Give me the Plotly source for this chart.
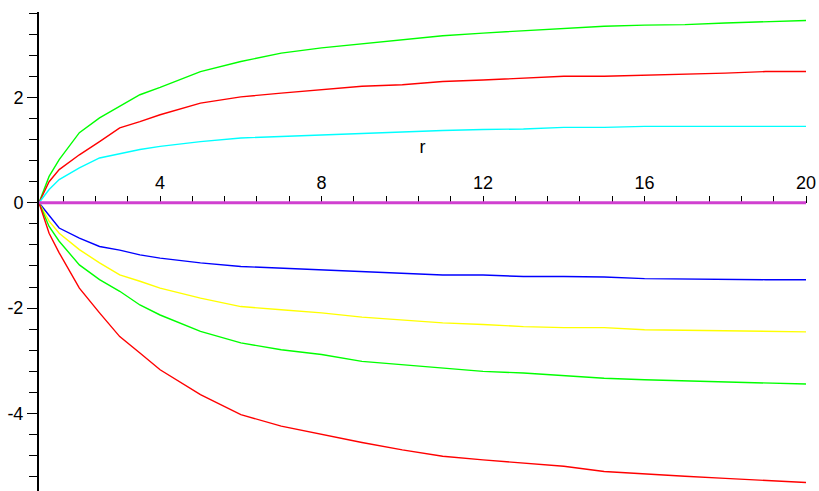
import plotly.graph_objects as go

# sample points along r
r = [1, 1.25, 1.5, 2, 2.5, 3, 3.5, 4, 5, 6, 7, 8, 9, 10, 11, 12, 13, 14, 15, 16, 17, 18, 19, 20]

green_up = [0, 0.50, 0.82, 1.33, 1.61, 1.83, 2.05, 2.19, 2.49, 2.68, 2.84, 2.94, 3.02, 3.09,
            3.17, 3.22, 3.26, 3.30, 3.35, 3.37, 3.38, 3.41, 3.43, 3.46]
red_up = [0, 0.40, 0.63, 0.91, 1.16, 1.42, 1.54, 1.67, 1.89, 2.01, 2.08, 2.14, 2.21, 2.24,
          2.30, 2.33, 2.37, 2.40, 2.40, 2.42, 2.43, 2.46, 2.49, 2.49]
cyan_up = [0, 0.25, 0.44, 0.66, 0.85, 0.93, 1.01, 1.07, 1.16, 1.23, 1.26, 1.29, 1.32, 1.35,
           1.37, 1.39, 1.40, 1.43, 1.43, 1.45, 1.45, 1.45, 1.45, 1.45]
zero_line = [0] * len(r)
blue_lo = [0, -0.23, -0.48, -0.67, -0.83, -0.90, -0.99, -1.05, -1.14, -1.21, -1.24, -1.28, -1.30,
           -1.33, -1.37, -1.37, -1.40, -1.40, -1.41, -1.44, -1.45, -1.45, -1.46, -1.46]
yellow_lo = [0, -0.35, -0.58, -0.89, -1.14, -1.37, -1.49, -1.62, -1.81, -1.97, -2.03, -2.09, -2.17,
             -2.22, -2.28, -2.31, -2.35, -2.37, -2.37, -2.41, -2.42, -2.43, -2.44, -2.45]
green_lo = [0, -0.45, -0.73, -1.18, -1.46, -1.68, -1.94, -2.13, -2.44, -2.66, -2.79, -2.88, -3.01,
            -3.07, -3.14, -3.20, -3.23, -3.28, -3.33, -3.36, -3.38, -3.40, -3.42, -3.44]
red_lo = [0, -0.58, -0.95, -1.62, -2.09, -2.54, -2.85, -3.17, -3.64, -4.02, -4.24, -4.40, -4.55,
          -4.69, -4.81, -4.88, -4.94, -5.00, -5.10, -5.15, -5.19, -5.23, -5.27, -5.31]

x_tickvals = [4, 8, 12, 16, 20]
x_ticktext = ["4", "8", "12", "16", "20"]
y_tickvals = [-4, -2, 0, 2]
y_ticktext = ["-4", "-2", "0", "2"]

series = [
    (green_up, "#00ff00"),
    (red_up, "#ff0000"),
    (cyan_up, "#00ffff"),
    (blue_lo, "#0000ff"),
    (yellow_lo, "#ffff00"),
    (green_lo, "#00ff00"),
    (red_lo, "#ff0000"),
]

fig = go.Figure()
for ys, col in series:
    fig.add_trace(go.Scatter(x=r, y=ys, mode="lines", line=dict(color=col, width=1.4),
                             showlegend=False, hoverinfo="skip", cliponaxis=False))
fig.add_trace(go.Scatter(x=r, y=zero_line, mode="lines", line=dict(color="#d040d0", width=3),
                         showlegend=False, hoverinfo="skip", cliponaxis=False))

y_lo, y_hi = -5.47, 3.62
x_pos = (0 - y_lo) / (y_hi - y_lo)

font = dict(family="Liberation Sans, Arial, sans-serif", size=18, color="black")

fig.update_layout(
    width=819, height=491,
    margin=dict(l=39, r=13, t=12, b=0),
    paper_bgcolor="white", plot_bgcolor="white",
    font=font,
    xaxis=dict(
        range=[1, 20], anchor="free", position=x_pos, side="top",
        layer="below traces",
        showgrid=False, zeroline=False,
        showline=True, linecolor="black", linewidth=1,
        tickmode="array", tickvals=x_tickvals, ticktext=x_ticktext,
        ticks="outside", ticklen=7, tickwidth=1.3, tickcolor="black",
        minor=dict(tick0=0, dtick=0.8, ticks="outside", ticklen=7, tickwidth=1.3, tickcolor="black"),
        tickfont=font,
        title=dict(text="r", font=font, standoff=13),
    ),
    yaxis=dict(
        range=[y_lo, y_hi],
        showgrid=False, zeroline=False,
        showline=True, linecolor="black", linewidth=2,
        tickmode="array", tickvals=y_tickvals, ticktext=y_ticktext,
        ticks="outside", ticklen=10, tickwidth=1.3, tickcolor="black",
        minor=dict(tick0=0, dtick=0.4, ticks="outside", ticklen=8, tickwidth=1.3, tickcolor="black"),
        tickfont=font,
    ),
)

fig.write_html("out.html")
